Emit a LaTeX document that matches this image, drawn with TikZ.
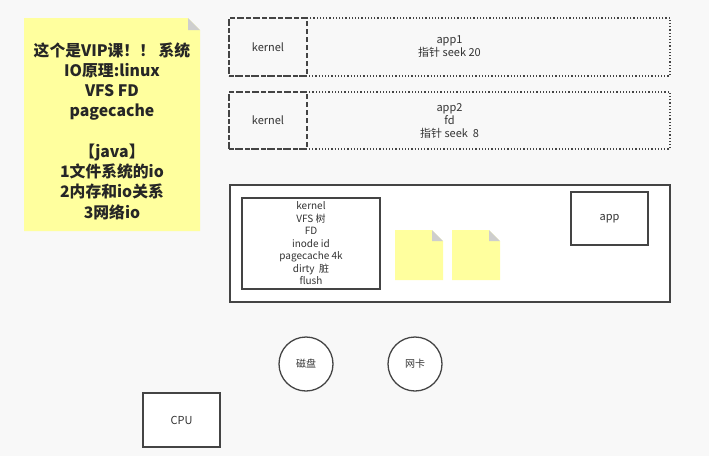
\documentclass[tikz,border=0pt]{standalone}
\usepackage{fontspec}
\setmainfont{Noto Sans CJK SC}
\usetikzlibrary{positioning}
\definecolor{bgpaper}{RGB}{248,248,248}
\definecolor{noteyellow}{RGB}{255,255,158}
\definecolor{foldgray}{RGB}{206,206,206}
\definecolor{inkgray}{RGB}{51,51,51}
\definecolor{linegray}{RGB}{68,68,68}

\begin{document}
\begin{tikzpicture}[x=1pt,y=-1pt,
    txt/.style={text=inkgray, font=\fontsize{11}{13}\selectfont, align=center, inner sep=0pt},
    solidbox/.style={draw=linegray, line width=1.3pt, fill=white, inner sep=0pt},
    dotbox/.style={draw=linegray, line width=1.2pt, dotted, inner sep=0pt},
    kernbox/.style={draw=linegray, line width=1.5pt, dash pattern=on 5pt off 3pt, inner sep=0pt},
    disc/.style={circle, draw=linegray, line width=1.3pt, fill=white, minimum size=54pt, inner sep=0pt}]
    % paper
    \fill[bgpaper] (0,0) rectangle (709,456);
    \useasboundingbox (0,0) rectangle (709,456);

    % sticky note with the topics
    \fill[noteyellow] (24,18) -- (188,18) -- (200,30) -- (200,231) -- (24,231) -- cycle;
    \fill[foldgray] (188,18) -- (188,30) -- (200,30) -- cycle;
    \node[txt, font=\fontsize{15.8}{20.25}\selectfont\bfseries, text=black!85] (topics) at (112,131)
        {这个是VIP课！！ 系统\\IO原理:linux\\VFS FD\\pagecache\\ \\【java】\\1文件系统的io\\2内存和io关系\\3网络io};

    % two processes, each with its kernel part
    \node[dotbox, txt, minimum width=441pt, minimum height=58pt] (app1) at (449.5,47) {app1\\指针 seek 20};
    \node[kernbox, txt, minimum width=78pt, minimum height=58pt] (kern1) at (268,47) {kernel};
    \node[dotbox, txt, minimum width=441pt, minimum height=57pt] (app2) at (449.5,120.5) {app2\\fd\\指针 seek\ \ 8};
    \node[kernbox, txt, minimum width=78pt, minimum height=57pt] (kern2) at (268,120.5) {kernel};

    % memory
    \node[solidbox, minimum width=440pt, minimum height=117pt] (mem) at (450,243.5) {};
    \node[solidbox, txt, font=\fontsize{10}{12.5}\selectfont, minimum width=138pt, minimum height=91pt] (vfs) at (311,243.5)
        {kernel\\VFS 树\\FD\\inode id\\pagecache 4k\\dirty\ \ 脏\\flush};
    \node[solidbox, txt, minimum width=77pt, minimum height=53pt] (app) at (609.5,218.5) {app};

    % pages in the pagecache
    \foreach \px in {395,452} {
        \fill[noteyellow] (\px,230) -- (\px+37,230) -- (\px+48,241) -- (\px+48,280) -- (\px,280) -- cycle;
        \fill[foldgray] (\px+37,230) -- (\px+37,241) -- (\px+48,241) -- cycle;
    }

    % devices
    \node[disc, txt, font=\fontsize{10}{12}\selectfont] (disk) at (306,364) {磁盘};
    \node[disc, txt, font=\fontsize{10}{12}\selectfont] (nic) at (415,364) {网卡};
    \node[solidbox, txt, minimum width=77pt, minimum height=54pt] (cpu) at (181.5,420) {CPU};
\end{tikzpicture}
\end{document}
